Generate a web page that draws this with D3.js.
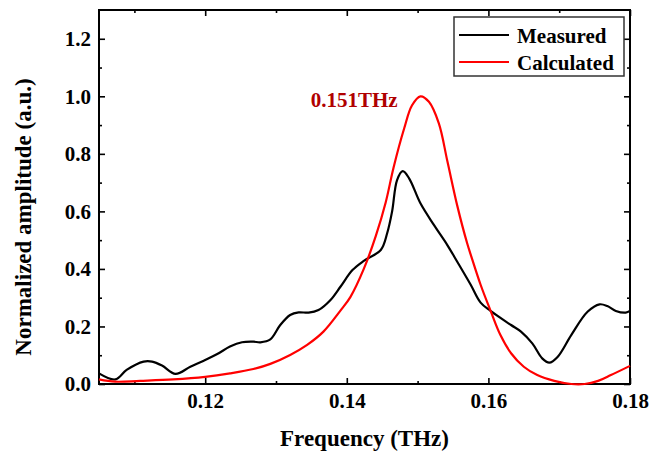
<!DOCTYPE html>
<html>
<head>
<meta charset="utf-8">
<script src="https://cdn.jsdelivr.net/npm/d3@7"></script>
<style>
  body { margin: 0; background: #fff; }
  text { font-family: "Liberation Serif", "Times New Roman", serif; font-weight: bold; }
</style>
</head>
<body>
<div id="chart"></div>
<script>
// Measured spectrum (black)
var measFreq = [0.1050, 0.1073, 0.1089, 0.1113, 0.1125, 0.1139, 0.1158, 0.1179, 0.1198, 0.1217,
  0.1235, 0.1252, 0.1268, 0.1278, 0.1292, 0.1306, 0.1320, 0.1332, 0.1346, 0.1360,
  0.1377, 0.1391, 0.1408, 0.1424, 0.1448, 0.1457, 0.1464, 0.1471, 0.1479, 0.1488,
  0.1504, 0.1523, 0.1542, 0.1556, 0.1575, 0.1589, 0.1603, 0.1632, 0.1646, 0.1662,
  0.1676, 0.1686, 0.1698, 0.1717, 0.1740, 0.1757, 0.1768, 0.1780, 0.1794, 0.1800];
var measAmp = [0.037, 0.016, 0.049, 0.078, 0.078, 0.064, 0.035, 0.060, 0.081, 0.104,
  0.130, 0.145, 0.147, 0.145, 0.155, 0.205, 0.240, 0.249, 0.248, 0.257,
  0.292, 0.338, 0.396, 0.428, 0.466, 0.524, 0.600, 0.709, 0.740, 0.715,
  0.628, 0.553, 0.483, 0.425, 0.345, 0.283, 0.254, 0.205, 0.182, 0.141,
  0.089, 0.074, 0.095, 0.170, 0.251, 0.277, 0.271, 0.254, 0.248, 0.254];

// Calculated spectrum (red)
var calcFreq = [0.1050, 0.1073, 0.1108, 0.1155, 0.1200, 0.1235, 0.1268, 0.1292, 0.1320, 0.1344,
  0.1367, 0.1391, 0.1405, 0.1424, 0.1441, 0.1455, 0.1466, 0.1481, 0.1492, 0.1504,
  0.1516, 0.1530, 0.1542, 0.1556, 0.1570, 0.1575, 0.1589, 0.1603, 0.1617, 0.1632,
  0.1650, 0.1669, 0.1693, 0.1717, 0.1736, 0.1755, 0.1773, 0.1800];
var calcAmp = [0.016, 0.008, 0.011, 0.016, 0.025, 0.037, 0.052, 0.070, 0.101, 0.136,
  0.182, 0.255, 0.302, 0.400, 0.515, 0.632, 0.752, 0.888, 0.968, 1.000,
  0.981, 0.906, 0.775, 0.620, 0.489, 0.450, 0.345, 0.255, 0.170, 0.107,
  0.060, 0.031, 0.011, 0.000, 0.000, 0.011, 0.031, 0.063];

var xMajor = [0.12, 0.14, 0.16, 0.18];
var xMinor = [0.11, 0.13, 0.15, 0.17];
var yMajor = [0.0, 0.2, 0.4, 0.6, 0.8, 1.0, 1.2];
var yMinor = [0.1, 0.3, 0.5, 0.7, 0.9, 1.1];

var width = 662;
var height = 454;
var margin = { top: 10, right: 32, bottom: 70, left: 99 };

var svg = d3.select("#chart")
    .append("svg")
    .attr("width", width)
    .attr("height", height);

var x = d3.scaleLinear()
    .domain([0.105, 0.18])
    .range([margin.left, width - margin.right]);

var y = d3.scaleLinear()
    .domain([0, 1.3])
    .range([height - margin.bottom, margin.top]);

var fmt = d3.format(".2f");
var fmtY = d3.format(".1f");

function styleAxis(g) {
    g.select(".domain").remove();
    g.selectAll("line").attr("stroke", "#000").attr("stroke-width", 1.6);
    g.selectAll("text").attr("fill", "#000").style("font-size", "21px");
}

// bottom axis
svg.append("g")
    .attr("transform", "translate(0," + y(0) + ")")
    .call(d3.axisBottom(x).tickValues(xMajor).tickFormat(fmt).tickSize(-6).tickPadding(9))
    .call(styleAxis);
svg.append("g")
    .attr("transform", "translate(0," + y(0) + ")")
    .call(d3.axisBottom(x).tickValues(xMinor).tickFormat("").tickSize(-3))
    .call(styleAxis);

// top axis (mirror)
svg.append("g")
    .attr("transform", "translate(0," + y(1.3) + ")")
    .call(d3.axisTop(x).tickValues(xMajor).tickFormat("").tickSize(-6))
    .call(styleAxis);
svg.append("g")
    .attr("transform", "translate(0," + y(1.3) + ")")
    .call(d3.axisTop(x).tickValues(xMinor).tickFormat("").tickSize(-3))
    .call(styleAxis);

// left axis
svg.append("g")
    .attr("transform", "translate(" + x(0.105) + ",0)")
    .call(d3.axisLeft(y).tickValues(yMajor).tickFormat(fmtY).tickSize(-6).tickPadding(8))
    .call(styleAxis);
svg.append("g")
    .attr("transform", "translate(" + x(0.105) + ",0)")
    .call(d3.axisLeft(y).tickValues(yMinor).tickFormat("").tickSize(-3))
    .call(styleAxis);

// right axis (mirror)
svg.append("g")
    .attr("transform", "translate(" + x(0.18) + ",0)")
    .call(d3.axisRight(y).tickValues(yMajor).tickFormat("").tickSize(-6))
    .call(styleAxis);
svg.append("g")
    .attr("transform", "translate(" + x(0.18) + ",0)")
    .call(d3.axisRight(y).tickValues(yMinor).tickFormat("").tickSize(-3))
    .call(styleAxis);

// frame
svg.append("rect")
    .attr("x", x(0.105))
    .attr("y", y(1.3))
    .attr("width", x(0.18) - x(0.105))
    .attr("height", y(0) - y(1.3))
    .attr("fill", "none")
    .attr("stroke", "#000")
    .attr("stroke-width", 2);

var line = d3.line()
    .x(d => x(d[0]))
    .y(d => y(d[1]))
    .curve(d3.curveCatmullRom.alpha(0.5));

svg.append("path")
    .datum(measFreq.map((f, i) => [f, measAmp[i]]))
    .attr("d", line)
    .attr("fill", "none")
    .attr("stroke", "#000")
    .attr("stroke-width", 2.2);

svg.append("path")
    .datum(calcFreq.map((f, i) => [f, calcAmp[i]]))
    .attr("d", line)
    .attr("fill", "none")
    .attr("stroke", "#ff0000")
    .attr("stroke-width", 2.2);

// peak annotation
svg.append("text")
    .attr("x", x(0.1349))
    .attr("y", y(0.963))
    .attr("fill", "#b00000")
    .style("font-size", "21px")
    .text("0.151THz");

// axis titles
svg.append("text")
    .attr("x", (x(0.105) + x(0.18)) / 2)
    .attr("y", 446)
    .style("text-anchor", "middle")
    .style("font-size", "23px")
    .text("Frequency (THz)");

svg.append("text")
    .attr("transform", "rotate(-90)")
    .attr("x", -217)
    .attr("y", 31)
    .style("text-anchor", "middle")
    .style("font-size", "23px")
    .text("Normalized amplitude (a.u.)");

// legend
var legend = svg.append("g")
    .attr("transform", "translate(454,17)");

legend.append("rect")
    .attr("width", 170)
    .attr("height", 59)
    .attr("fill", "#fff")
    .attr("stroke", "#333")
    .attr("stroke-width", 1.5);

var legendItems = [["Measured", "#000"], ["Calculated", "#ff0000"]];
legendItems.forEach(function(item, i) {
    legend.append("line")
        .attr("x1", 5)
        .attr("x2", 55)
        .attr("y1", 18 + i * 27)
        .attr("y2", 18 + i * 27)
        .attr("stroke", item[1])
        .attr("stroke-width", 2.2);
    legend.append("text")
        .attr("x", 63)
        .attr("y", 26 + i * 27)
        .style("font-size", "21px")
        .text(item[0]);
});
</script>
</body>
</html>
